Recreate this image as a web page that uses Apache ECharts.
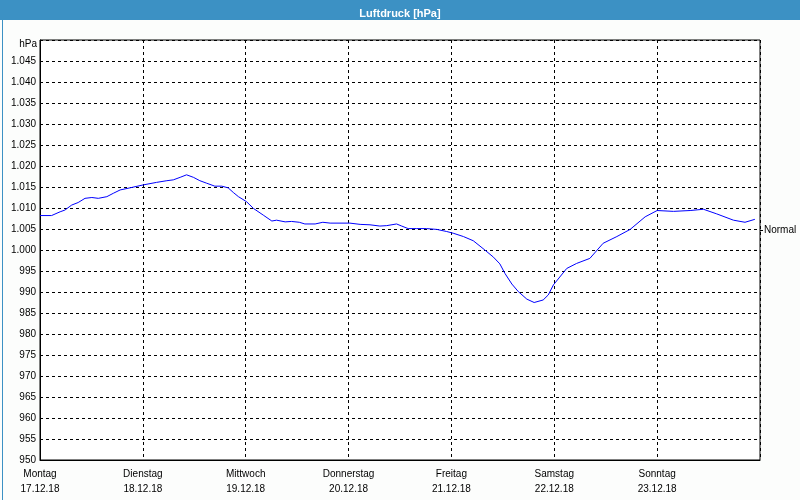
<!DOCTYPE html>
<html>
<head>
<meta charset="utf-8">
<script src="https://cdn.jsdelivr.net/npm/echarts@6/dist/echarts.min.js"></script>
<style>html,body{margin:0;padding:0;background:#fcfdfc;}#c{width:800px;height:500px;}</style>
</head>
<body>
<div id="c"></div>
<script>
const chartTitle = 'Luftdruck [hPa]';
const unitLabel = 'hPa';
const dayNames = ['Montag','Dienstag','Mittwoch','Donnerstag','Freitag','Samstag','Sonntag'];
const dayDates = ['17.12.18','18.12.18','19.12.18','20.12.18','21.12.18','22.12.18','23.12.18'];
const normalLabel = 'Normal';
const normalLevel = 1004.8;
// hours since Monday 00:00
const hours = [0,2.7,4.7,5.8,7.4,8.9,10.5,12.1,13.6,15.6,17.1,18.7,21.0,24.1,27.2,29.6,31.1,32.7,34.2,35.8,37.3,38.9,40.8,42.4,43.9,45.1,46.3,48.2,49.8,52.1,54.1,55.2,57.2,58.7,60.5,61.8,64.2,66.0,67.7,72.3,74.7,77.0,79.3,80.9,83.2,84.4,85.9,87.9,90.2,92.6,94.9,96.4,98.8,101.1,103.8,105.8,107.3,108.5,110.1,111.6,113.6,115.3,117.4,118.6,119.8,122.9,125.2,128.3,131.4,134.6,137.7,141.2,144.0,147.8,151.7,154.8,157.9,161.8,164.5,166.8];
const pressure = [1008.2,1008.2,1009.1,1009.5,1010.7,1011.3,1012.3,1012.5,1012.3,1012.7,1013.5,1014.3,1014.8,1015.5,1016.1,1016.5,1016.7,1017.3,1017.9,1017.3,1016.5,1015.9,1015.2,1015.2,1014.8,1013.7,1012.7,1011.5,1009.9,1008.3,1006.9,1007.1,1006.7,1006.8,1006.6,1006.2,1006.2,1006.6,1006.4,1006.4,1006.1,1006.0,1005.7,1005.8,1006.2,1005.7,1005.1,1005.1,1005.1,1004.9,1004.4,1004.0,1003.2,1002.2,1000.0,998.3,996.7,994.4,991.9,990.1,988.3,987.5,988.1,989.3,991.7,995.6,996.8,998.0,1001.6,1003.2,1004.9,1007.9,1009.4,1009.2,1009.4,1009.7,1008.6,1007.1,1006.6,1007.3];
const yMin = 950, yMax = 1050, yStep = 5;

const font = 'Liberation Sans';
const frameBlue = '#3c91c4';

function fmtY(v) {
  if (v >= yMax) return '';
  if (v >= 1000) return '1.' + String(Math.round(v - 1000)).padStart(3, '0');
  return String(v);
}

const chart = echarts.init(document.getElementById('c'));
chart.setOption({
  animation: false,
  backgroundColor: '#fcfdfc',
  title: {
    text: chartTitle, left: 'center', top: 3, z: 10,
    textStyle: { color: '#fff', fontSize: 11, fontWeight: 'bold', fontFamily: font }
  },
  graphic: [
    { type: 'rect', left: 0, top: 0, z: -1, shape: { width: 800, height: 20 }, style: { fill: frameBlue } },
    { type: 'rect', left: 0, top: 0, z: -1, shape: { x: 0.5, y: 0.5, width: 799, height: 499 }, style: { fill: null, stroke: frameBlue, lineWidth: 1 } },
    { type: 'text', x: 37, y: 44, style: { text: unitLabel, textAlign: 'right', textVerticalAlign: 'middle', fill: '#000', fontSize: 10, fontFamily: font } }
  ],
  grid: { left: 40, right: 40, top: 40, bottom: 40, show: true, borderColor: '#000', borderWidth: 1, backgroundColor: '#fff' },
  xAxis: {
    type: 'value', min: 0, max: 168, interval: 24,
    axisLine: { show: true, lineStyle: { color: '#000', width: 1 } },
    axisTick: { show: false },
    splitLine: { show: true, lineStyle: { color: '#000', type: [3, 3], width: 1 } },
    axisLabel: {
      margin: 7, lineHeight: 14.5, color: '#000', fontSize: 10, fontFamily: font,
      formatter: function (v) { const i = Math.round(v / 24); return i < dayNames.length ? dayNames[i] + '\n' + dayDates[i] : ''; }
    }
  },
  yAxis: [{
    type: 'value', min: yMin, max: yMax, interval: yStep,
    axisLine: { show: true, lineStyle: { color: '#000', width: 1 } },
    axisTick: { show: false },
    splitLine: { show: true, lineStyle: { color: '#000', type: [3, 3], width: 1 } },
    axisLabel: { margin: 4, color: '#000', fontSize: 10, fontFamily: font, formatter: fmtY }
  }, {
    type: 'value', min: yMin, max: yMax, position: 'right',
    axisLine: { show: false },
    splitLine: { show: false },
    axisTick: { show: true, length: 3, customValues: [normalLevel], lineStyle: { color: '#000' } },
    axisLabel: { margin: 4, color: '#000', fontSize: 10, fontFamily: font, customValues: [normalLevel], formatter: function () { return normalLabel; } }
  }],
  series: [{
    type: 'line', showSymbol: false, smooth: false, yAxisIndex: 0,
    lineStyle: { color: '#0000ff', width: 1 },
    data: hours.map((h, i) => [h, pressure[i]])
  }]
});
</script>
</body>
</html>
